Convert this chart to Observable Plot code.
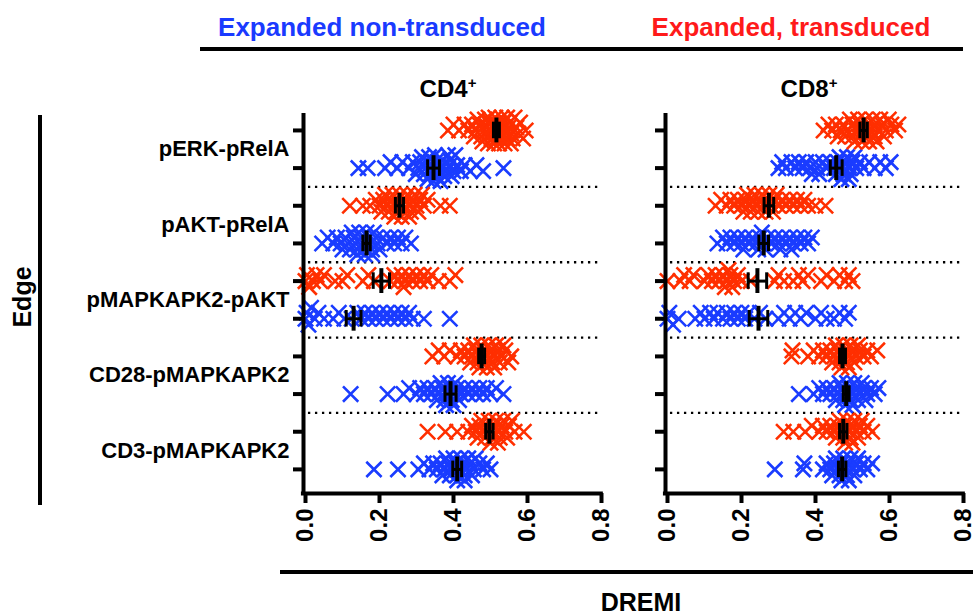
<!DOCTYPE html>
<html><head><meta charset="utf-8">
<script src="https://cdn.jsdelivr.net/npm/d3@7"></script>
<script src="https://cdn.jsdelivr.net/npm/@observablehq/plot@0.6"></script>
<style>
body{margin:0;background:#fff;font-family:"Liberation Sans",Arial,sans-serif;}
#wrap{position:relative;width:973px;height:615px;overflow:hidden;background:#fff;}
.abs{position:absolute;white-space:nowrap;font-weight:bold;line-height:1;z-index:5;}
.bar{position:absolute;background:#000;z-index:5;}
.pl{position:absolute;top:0;}
</style></head><body><div id="wrap"></div>
<script>
// ---------- data ----------
const edges = ["pERK-pRelA", "pAKT-pRelA", "pMAPKAPK2-pAKT", "CD28-pMAPKAPK2", "CD3-pMAPKAPK2"];
const panelTitles = ["CD4", "CD8"];
const conditionTitles = ["Expanded non-transduced", "Expanded, transduced"];
const xTicks = [0, 0.2, 0.4, 0.6, 0.8];
const axisTitleX = "DREMI";
const axisTitleY = "Edge";

// CD4+, expanded transduced (red)
const cd4T_pERK = [0.385,0.40,0.415,0.43,0.44,0.45,0.455,0.46,0.465,0.47,0.475,0.478,0.482,0.486,0.49,0.493,0.497,0.50,0.503,0.507,0.51,0.513,0.516,0.52,0.523,0.527,0.53,0.534,0.538,0.541,0.545,0.549,0.552,0.556,0.56,0.565,0.57,0.575,0.58,0.588,0.595,0.515,0.525,0.535,0.545,0.555,0.505,0.495,0.485,0.53];
const cd4T_pAKT = [0.12,0.155,0.175,0.19,0.2,0.205,0.21,0.215,0.22,0.225,0.23,0.235,0.24,0.245,0.25,0.255,0.26,0.265,0.27,0.275,0.28,0.285,0.29,0.295,0.3,0.305,0.31,0.315,0.32,0.33,0.365,0.39,0.24,0.26,0.28];
const cd4T_pMAPK = [0.0,0.004,0.01,0.02,0.03,0.04,0.05,0.08,0.1,0.113,0.155,0.17,0.185,0.23,0.24,0.25,0.26,0.265,0.27,0.28,0.29,0.3,0.31,0.32,0.33,0.34,0.36,0.39,0.405];
const cd4T_CD28 = [0.343,0.36,0.375,0.39,0.41,0.42,0.43,0.44,0.445,0.45,0.455,0.46,0.465,0.47,0.475,0.48,0.485,0.49,0.495,0.5,0.505,0.51,0.515,0.52,0.525,0.53,0.535,0.54,0.548,0.556,0.47,0.49,0.51];
const cd4T_CD3 = [0.33,0.378,0.41,0.44,0.45,0.46,0.465,0.47,0.475,0.48,0.485,0.49,0.495,0.5,0.505,0.51,0.515,0.52,0.525,0.53,0.535,0.54,0.545,0.55,0.558,0.565,0.59,0.5,0.52];
// CD4+, expanded non-transduced (blue)
const cd4N_pERK = [0.143,0.168,0.215,0.23,0.248,0.262,0.28,0.29,0.298,0.305,0.31,0.315,0.32,0.325,0.33,0.334,0.338,0.342,0.346,0.35,0.355,0.36,0.365,0.37,0.375,0.38,0.385,0.39,0.395,0.40,0.405,0.41,0.42,0.43,0.445,0.462,0.48,0.535,0.33,0.35,0.37,0.39];
const cd4N_pAKT = [0.045,0.06,0.075,0.085,0.095,0.1,0.108,0.115,0.12,0.125,0.13,0.135,0.14,0.145,0.15,0.155,0.16,0.165,0.17,0.175,0.18,0.185,0.19,0.195,0.2,0.21,0.22,0.23,0.24,0.25,0.26,0.27,0.285,0.14,0.16,0.18];
const cd4N_pMAPK = [0.0,0.003,0.008,0.015,0.025,0.035,0.05,0.075,0.09,0.105,0.125,0.14,0.15,0.16,0.17,0.18,0.19,0.2,0.21,0.22,0.23,0.24,0.25,0.26,0.27,0.28,0.29,0.32,0.39];
const cd4N_CD28 = [0.122,0.222,0.265,0.28,0.3,0.31,0.32,0.33,0.34,0.35,0.355,0.36,0.365,0.37,0.375,0.38,0.385,0.39,0.395,0.4,0.405,0.41,0.415,0.42,0.43,0.44,0.45,0.46,0.47,0.48,0.49,0.5,0.515,0.535,0.38,0.4];
const cd4N_CD3 = [0.185,0.25,0.305,0.32,0.335,0.345,0.355,0.365,0.37,0.375,0.38,0.385,0.39,0.395,0.4,0.405,0.41,0.415,0.42,0.425,0.43,0.435,0.44,0.445,0.45,0.455,0.46,0.47,0.48,0.49,0.5,0.41,0.43];
// CD8+, expanded transduced (red)
const cd8T_pERK = [0.422,0.435,0.445,0.455,0.46,0.468,0.475,0.48,0.487,0.493,0.5,0.505,0.51,0.515,0.52,0.525,0.53,0.535,0.54,0.545,0.55,0.555,0.56,0.565,0.57,0.575,0.58,0.585,0.59,0.598,0.605,0.615,0.624,0.5,0.52,0.54,0.56];
const cd8T_pAKT = [0.13,0.145,0.16,0.17,0.18,0.19,0.2,0.205,0.21,0.215,0.22,0.225,0.23,0.235,0.24,0.245,0.25,0.255,0.26,0.265,0.27,0.275,0.28,0.285,0.29,0.295,0.3,0.31,0.32,0.33,0.34,0.35,0.36,0.37,0.38,0.4,0.427];
const cd8T_pMAPK = [0.0,0.035,0.045,0.06,0.07,0.1,0.11,0.12,0.13,0.14,0.15,0.155,0.16,0.165,0.17,0.175,0.18,0.19,0.2,0.225,0.29,0.3,0.315,0.34,0.355,0.365,0.38,0.415,0.43,0.45,0.465,0.48,0.49,0.5];
const cd8T_CD28 = [0.335,0.338,0.38,0.395,0.41,0.42,0.43,0.44,0.445,0.45,0.455,0.46,0.465,0.47,0.475,0.48,0.485,0.49,0.495,0.5,0.505,0.51,0.515,0.52,0.53,0.54,0.55,0.567,0.47,0.49];
const cd8T_CD3 = [0.314,0.34,0.372,0.39,0.41,0.42,0.43,0.44,0.45,0.455,0.46,0.465,0.47,0.475,0.48,0.485,0.49,0.495,0.5,0.505,0.51,0.515,0.52,0.525,0.53,0.54,0.553,0.48,0.5];
// CD8+, expanded non-transduced (blue)
const cd8N_pERK = [0.3,0.31,0.32,0.335,0.345,0.355,0.365,0.375,0.385,0.39,0.4,0.405,0.41,0.42,0.43,0.44,0.45,0.455,0.46,0.465,0.47,0.475,0.48,0.485,0.49,0.495,0.5,0.505,0.51,0.52,0.53,0.545,0.56,0.575,0.59,0.603,0.47,0.49];
const cd8N_pAKT = [0.135,0.15,0.16,0.17,0.18,0.19,0.2,0.205,0.21,0.22,0.23,0.24,0.245,0.25,0.255,0.26,0.265,0.27,0.28,0.29,0.3,0.305,0.31,0.32,0.33,0.335,0.34,0.35,0.36,0.37,0.38,0.39];
const cd8N_pMAPK = [0.0,0.005,0.015,0.03,0.075,0.09,0.1,0.115,0.125,0.135,0.15,0.16,0.17,0.18,0.19,0.2,0.21,0.22,0.235,0.25,0.265,0.3,0.315,0.33,0.345,0.36,0.375,0.4,0.415,0.43,0.45,0.465,0.48,0.49];
const cd8N_CD28 = [0.355,0.395,0.41,0.42,0.43,0.44,0.45,0.455,0.46,0.465,0.47,0.475,0.48,0.485,0.49,0.495,0.5,0.505,0.51,0.515,0.52,0.525,0.53,0.535,0.54,0.55,0.56,0.57,0.48,0.5];
const cd8N_CD3 = [0.29,0.366,0.37,0.42,0.43,0.44,0.445,0.45,0.455,0.46,0.465,0.47,0.475,0.48,0.485,0.49,0.495,0.5,0.505,0.51,0.515,0.52,0.53,0.54,0.553,0.47,0.49];

// mean and SEM per edge
const cd4MeanT = [0.516, 0.254, 0.205, 0.476, 0.497];
const cd4SemT  = [0.008, 0.011, 0.022, 0.008, 0.010];
const cd4MeanN = [0.346, 0.165, 0.130, 0.392, 0.410];
const cd4SemN  = [0.016, 0.010, 0.020, 0.015, 0.012];
const cd8MeanT = [0.530, 0.274, 0.243, 0.473, 0.475];
const cd8SemT  = [0.010, 0.013, 0.025, 0.008, 0.010];
const cd8MeanN = [0.456, 0.260, 0.246, 0.483, 0.472];
const cd8SemN  = [0.016, 0.013, 0.025, 0.008, 0.010];

// ---------- layout ----------
const RED = "#ff2f00", BLUE = "#1a3cff";
const Y0 = -0.45, Y1 = 9.64, TOP = 113, BOTTOM = 493, H = 560;
const STEP = (BOTTOM - TOP) / (Y1 - Y0);     // px per row
const PXU = 296 / 0.8;                        // px per DREMI unit

// deterministic vertical spread of overlapping markers (scatter-dot style)
function spread(values) {
  const order = d3.range(values.length).sort((a, b) => values[a] - values[b]);
  const cands = [0, -6, 6, -11, 11, -3, 3, -8, 8, -13, 13];
  const placed = [], offs = new Array(values.length);
  for (const i of order) {
    const x = values[i] * PXU;
    let best = 0, bestCost = Infinity;
    for (const c of cands) {
      let cost = Math.abs(c) * 0.02;
      for (const p of placed) {
        const dx = Math.abs(p.x - x), dy = Math.abs(p.o - c);
        if (dx < 7 && dy < 5) cost += (7 - dx) * (5 - dy);
      }
      if (cost < bestCost) { bestCost = cost; best = c; }
    }
    placed.push({x, o: best});
    offs[i] = best;
  }
  return offs;
}

function panel({width, marginLeft, marginRight, T, N, meanT, semT, meanN, semN, labels}) {
  const pts = [], stats = [];
  edges.forEach((e, i) => {
    [[N[i], 1, "N"], [T[i], 0, "T"]].forEach(([vals, c, cond]) => {
      const offs = spread(vals);
      vals.forEach((v, j) => pts.push({v, y: 2 * i + c + offs[j] / STEP, cond}));
    });
    stats.push({m: meanT[i], s: semT[i], y: 2 * i});
    stats.push({m: meanN[i], s: semN[i], y: 2 * i + 1});
  });
  const caps = stats.flatMap(d => [{x: d.m - d.s, y: d.y}, {x: d.m + d.s, y: d.y}]);
  const marks = [
    Plot.ruleY([1.5, 3.5, 5.5, 7.5], {x1: 0.008, x2: 0.8, stroke: "#000", strokeWidth: 2.3, strokeDasharray: "2.3 4.7"}),
    Plot.dot(pts.filter(d => d.cond === "N"), {x: "v", y: "y", symbol: "times", r: 7, stroke: BLUE, strokeWidth: 2.6}),
    Plot.dot(pts.filter(d => d.cond === "T"), {x: "v", y: "y", symbol: "times", r: 7, stroke: RED, strokeWidth: 2.6}),
    Plot.ruleY(stats, {y: "y", x1: d => d.m - d.s, x2: d => d.m + d.s, stroke: "#000", strokeWidth: 3}),
    Plot.ruleX(caps, {x: "x", y1: d => d.y - 0.22, y2: d => d.y + 0.22, stroke: "#000", strokeWidth: 3}),
    Plot.ruleX(stats, {x: "m", y1: d => d.y - 0.33, y2: d => d.y + 0.33, stroke: "#000", strokeWidth: 4}),
    Plot.ruleX([0], {stroke: "#000", strokeWidth: 4, dx: -2}),
    Plot.ruleY([Y1], {x1: -0.011, x2: 0.805, stroke: "#000", strokeWidth: 4}),
    Plot.axisY(d3.range(10), {tickSize: 10, strokeWidth: 4, tickFormat: () => "", dx: -2, label: null}),
    Plot.axisX(xTicks, {tickSize: 10, strokeWidth: 4, tickFormat: () => "", label: null}),
    Plot.text(xTicks, {x: d => d, frameAnchor: "bottom", rotate: -90, textAnchor: "end", lineAnchor: "middle",
      dy: 15, text: d => d.toFixed(1), fontSize: 24, fontWeight: "bold", fill: "#000"})
  ];
  if (labels) marks.push(Plot.text(edges, {y: (d, i) => 2 * i + 0.5, frameAnchor: "left", textAnchor: "end",
    lineAnchor: "middle", dx: -16, text: d => d, fontSize: 22, fontWeight: "bold", fill: "#000"}));
  return Plot.plot({
    width, height: H, marginLeft, marginRight, marginTop: TOP, marginBottom: H - BOTTOM,
    style: {background: "transparent", fontFamily: "'Liberation Sans', Arial, sans-serif", overflow: "visible"},
    x: {domain: [0, 0.8], axis: null},
    y: {domain: [Y0, Y1], reverse: true, axis: null},
    marks
  });
}

const wrap = document.getElementById("wrap");
const p1 = panel({width: 610, marginLeft: 305, marginRight: 9,
  T: [cd4T_pERK, cd4T_pAKT, cd4T_pMAPK, cd4T_CD28, cd4T_CD3],
  N: [cd4N_pERK, cd4N_pAKT, cd4N_pMAPK, cd4N_CD28, cd4N_CD3],
  meanT: cd4MeanT, semT: cd4SemT, meanN: cd4MeanN, semN: cd4SemN, labels: true});
p1.classList.add("pl"); p1.style.left = "0px";
const p2 = panel({width: 373, marginLeft: 67, marginRight: 10,
  T: [cd8T_pERK, cd8T_pAKT, cd8T_pMAPK, cd8T_CD28, cd8T_CD3],
  N: [cd8N_pERK, cd8N_pAKT, cd8N_pMAPK, cd8N_CD28, cd8N_CD3],
  meanT: cd8MeanT, semT: cd8SemT, meanN: cd8MeanN, semN: cd8SemN, labels: false});
p2.classList.add("pl"); p2.style.left = "600px";
wrap.appendChild(p1); wrap.appendChild(p2);

function label(html, {x, baseline, size, color = "#000", rotate = 0}) {
  const d = document.createElement("div");
  d.className = "abs";
  d.innerHTML = html;
  d.style.fontSize = size + "px";
  d.style.color = color;
  d.style.left = x + "px";
  if (rotate) {
    d.style.top = baseline + "px";
    d.style.transform = `translate(-50%,-50%) rotate(${rotate}deg)`;
  } else {
    d.style.top = (baseline - 0.8465 * size) + "px";
    d.style.transform = "translateX(-50%)";
  }
  wrap.appendChild(d);
}
function bar(x, y, w, h) {
  const d = document.createElement("div");
  d.className = "bar";
  Object.assign(d.style, {left: x + "px", top: y + "px", width: w + "px", height: h + "px"});
  wrap.appendChild(d);
}
label(conditionTitles[0], {x: 382, baseline: 36, size: 26, color: "#1a3aff"});
label(conditionTitles[1], {x: 791, baseline: 36, size: 26, color: "#ff1a1a"});
bar(200, 47, 763, 4);
const sup = '<span style="font-size:15px;position:relative;top:-9px">+</span>';
label(panelTitles[0] + sup, {x: 448, baseline: 97, size: 24});
label(panelTitles[1] + sup, {x: 809, baseline: 97, size: 24});
bar(38, 115, 4, 390);
label(axisTitleY, {x: 22, baseline: 297, size: 25, rotate: -90});
bar(280, 570, 693, 4);
label(axisTitleX, {x: 641, baseline: 611, size: 25});
</script></body></html>
